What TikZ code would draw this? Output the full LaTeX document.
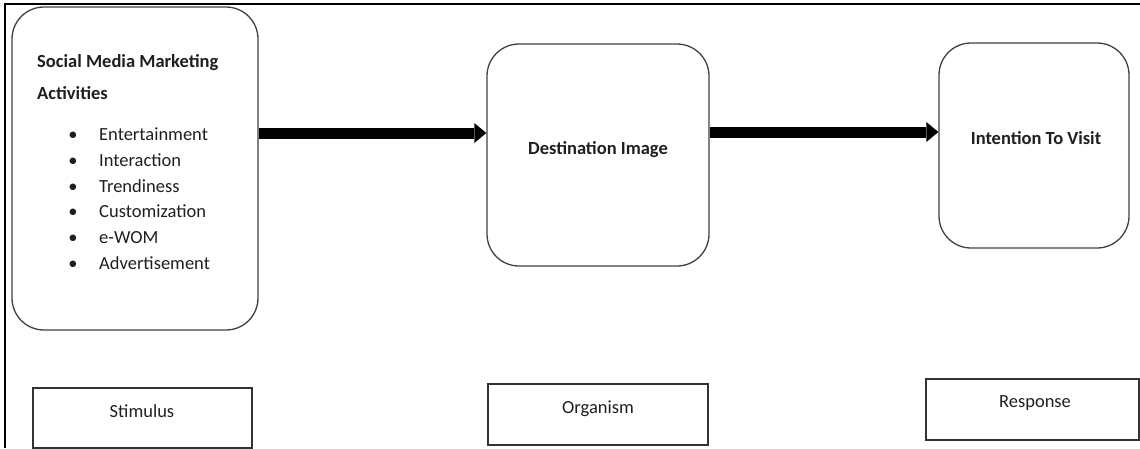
\documentclass[tikz,border=0pt]{standalone}
\usepackage{fontspec}
\setmainfont{Carlito}
\usetikzlibrary{arrows.meta}
\begin{document}
\begin{tikzpicture}[x=1pt,y=-1pt,
  rbox/.style={draw=black!75, line width=1.3pt, rounded corners=32pt, inner sep=0pt},
  sbox/.style={draw=black!80, line width=1.4pt, inner sep=0pt},
  txt/.style={text=black!88, font=\fontsize{18.5}{22}\selectfont, inner sep=0pt},
  btxt/.style={text=black!88, font=\bfseries\fontsize{18.5}{22}\selectfont, inner sep=0pt},
  conn/.style={line width=11pt, -{Triangle[width=20pt,length=12pt,line width=0pt]}}
]
\useasboundingbox (0,0) rectangle (1140,448);
% outer frame (left and top edges)
\draw[line width=2pt] (5,448) -- (5,4) -- (1140,4);

% main boxes
\node[rbox, minimum width=246pt, minimum height=323pt] (smma) at (135,168.5) {};
\node[rbox, minimum width=222pt, minimum height=222pt] (dest) at (598,155) {};
\node[rbox, minimum width=190pt, minimum height=205pt] (itv) at (1034,145.5) {};

% texts of first box
\node[btxt, anchor=base west] (t1) at (37,67) {Social Media Marketing};
\node[btxt, anchor=base west] (t2) at (37,99) {Activities};
\foreach \name/\yy/\item in {b1/140/Entertainment, b2/166/Interaction, b3/192/Trendiness,
  b4/217.5/Customization, b5/243/e-WOM, b6/269/Advertisement}{
  \node[txt, anchor=base] (\name d) at (73,\yy) {•};
  \node[txt, anchor=base west] (\name) at (99,\yy) {\item};
}

\node[btxt, anchor=base] (destt) at (598,154) {Destination Image};
\node[btxt, anchor=base] (itvt) at (1036,144) {Intention To Visit};

% connectors
\coordinate (ay1) at (0,133);
\coordinate (ay2) at (0,132);
\draw[conn] (smma.east |- ay1) -- (dest.west |- ay1);
\draw[conn] (dest.east |- ay2) -- (itv.west |- ay2);

% bottom boxes
\node[sbox, minimum width=219pt, minimum height=60pt] (stim) at (142.5,418) {};
\node[sbox, minimum width=220pt, minimum height=61pt] (org) at (598,414.5) {};
\node[sbox, minimum width=213pt, minimum height=61pt] (resp) at (1032.5,409.5) {};
\node[txt, anchor=base] (stimt) at (142,417) {Stimulus};
\node[txt, anchor=base] (orgt) at (598,413) {Organism};
\node[txt, anchor=base] (respt) at (1035,407) {Response};
\end{tikzpicture}
\end{document}
